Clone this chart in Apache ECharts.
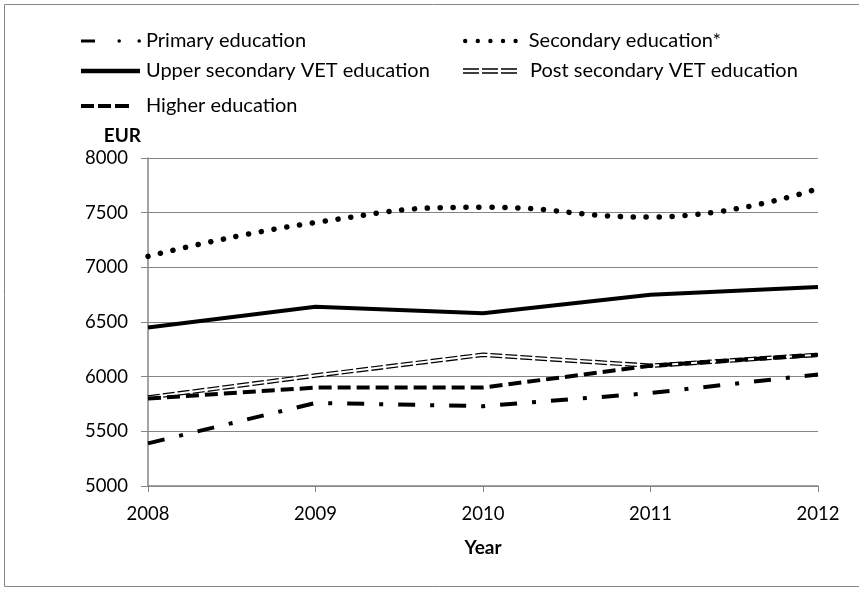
<!DOCTYPE html>
<html><head><meta charset="utf-8">
<script src="https://cdn.jsdelivr.net/npm/echarts@6/dist/echarts.min.js"></script>
<style>html,body{margin:0;padding:0;background:#fff}#c{width:859px;height:589px}</style>
</head><body><div id="c"></div>
<script>
const years = ['2008','2009','2010','2011','2012'];
const primary = [5390, 5760, 5730, 5850, 6020];
const secondary = [7100, 7410, 7550, 7460, 7720];
const upperVET = [6450, 6640, 6580, 6750, 6820];
const postVET = [5810, 6010, 6200, 6100, 6200];
const higher = [5800, 5900, 5900, 6100, 6200];
const names = ['Primary education','Secondary education*','Upper secondary VET education','Post secondary VET education','Higher education'];
const yTicks = {min:5000, max:8000, interval:500};

const FONT = 'Lato';
function dot(cx, cy, r){ return 'M'+(cx-r)+','+cy+'a'+r+','+r+' 0 1,0 '+(2*r)+',0a'+r+','+r+' 0 1,0 '+(-2*r)+',0Z'; }
const iconPrimary = 'path://M0,0.4H14V3.6H0Z' + dot(38.2,2,1.8) + dot(58.2,2,1.8);
const iconUpper = 'path://M0,0H59V4.4H0Z';
const iconHigher = 'path://M0,0H13V4H0Z M17,0H30V4H17Z M34,0H48V4H34Z';
const iconSecondary = 'path://' + dot(2.2,2.2,2.2) + dot(14.8,2.2,2.2) + dot(27.4,2.2,2.2) + dot(40,2.2,2.2) + dot(52.6,2.2,2.2);
let post = 'path://';
[0,19,38].forEach(x => { post += 'M'+x+',0H'+(x+16)+'V1.4H'+x+'Z M'+x+',4H'+(x+16)+'V5.4H'+x+'Z '; });
const iconPost = post;

const chart = echarts.init(document.getElementById('c'), null, {renderer:'canvas'});
function leg(name, icon, left, cy, w, h, padLeft){
  return {data:[{name:name, icon:icon}], left:left, top:cy-12, itemWidth:w, itemHeight:h, padding:0,
    itemStyle:{color:'#000', borderWidth:0},
    textStyle:{fontFamily:FONT, fontSize:20, color:'#000', padding:[0,0,0,padLeft], lineHeight:24}};
}
chart.setOption({
  animation:false,
  backgroundColor:'#fff',
  graphic:[{type:'rect', shape:{x:4.5,y:4.5,width:860,height:582}, style:{fill:'none', stroke:'#868686', lineWidth:1}, silent:true}],
  legend:[
    leg(names[0], iconPrimary, 81, 41, 60, 4, 0),
    leg(names[1], iconSecondary, 463, 41, 54.8, 4.4, 6),
    leg(names[2], iconUpper, 81, 71, 59, 4.4, 1),
    leg(names[3], iconPost, 463, 71, 54, 5.4, 8),
    leg(names[4], iconHigher, 81, 106, 48, 4, 12)
  ],
  grid:{left:148, right:41, top:158, bottom:103},
  xAxis:{type:'category', data:years, boundaryGap:false,
    name:'Year', nameLocation:'middle', nameGap:62,
    nameTextStyle:{fontFamily:FONT, fontSize:19, fontWeight:'bold', color:'#000', verticalAlign:'middle'},
    axisLine:{lineStyle:{color:'#868686', width:1.5}},
    axisTick:{show:true, length:6, inside:false, lineStyle:{color:'#868686'}},
    axisLabel:{fontFamily:FONT, fontSize:18.5, color:'#000', margin:19}
  },
  yAxis:{type:'value', min:yTicks.min, max:yTicks.max, interval:yTicks.interval,
    name:'EUR', nameLocation:'end', nameGap:22,
    nameTextStyle:{fontFamily:FONT, fontSize:19, fontWeight:'bold', color:'#000', align:'right', verticalAlign:'middle', padding:[0,7,0,0]},
    axisLine:{show:true, lineStyle:{color:'#868686', width:1.5}},
    axisTick:{show:true, length:7, lineStyle:{color:'#868686'}},
    splitLine:{lineStyle:{color:'#868686', width:1.2}},
    axisLabel:{fontFamily:FONT, fontSize:18.5, color:'#000', margin:20, formatter:v => String(v)}
  },
  series:[
    {name:names[0], type:'line', data:primary, symbol:'none', color:'#000',
      lineStyle:{color:'#000', width:4, type:[17,15,4,15], cap:'butt'}},
    {name:names[1], type:'line', data:secondary, symbol:'none', smooth:0.5, color:'#000',
      lineStyle:{color:'#000', width:5.5, type:[0.1,12.8], cap:'round'}},
    {name:names[2], type:'line', data:upperVET, symbol:'none', color:'#000',
      lineStyle:{color:'#000', width:4, type:'solid'}},
    {name:names[3], type:'line', data:postVET, symbol:'none', color:'#000',
      lineStyle:{color:'#000', width:4.5, type:[12,3]}},
    {name:'postInner', type:'line', data:postVET, symbol:'none', color:'#fff',
      lineStyle:{color:'#fff', width:2, type:'solid'}},
    {name:names[4], type:'line', data:higher, symbol:'none', color:'#000',
      lineStyle:{color:'#000', width:4, type:[13,6]}}
  ]
});
</script></body></html>
